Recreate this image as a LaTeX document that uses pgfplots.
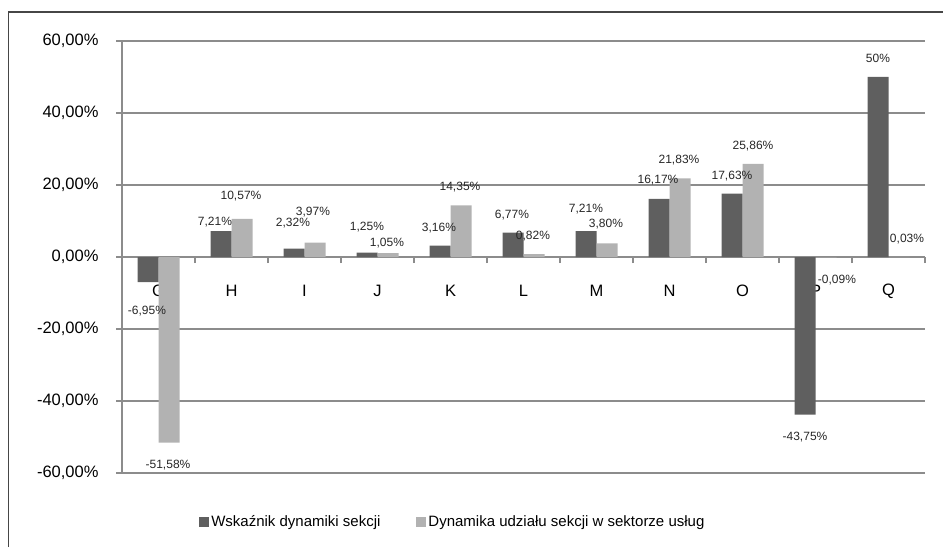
\documentclass[border=0pt]{standalone}
\usepackage{pgfplots}
\pgfplotsset{compat=1.18}
\usepackage{pgfplotstable}
\usepackage{fontspec}
\setmainfont{Liberation Sans}
\definecolor{darkbar}{RGB}{95,95,95}
\definecolor{lightbar}{RGB}{178,178,178}
\definecolor{gridc}{RGB}{140,140,140}
\definecolor{framec}{RGB}{70,70,70}

% x = category index (G..Q), y = value in %, dx/dy = label offset (pt), lab = printed value
\pgfplotstableread{
x y dx dy lab
0 -6.95 -1 -29 -6,95
1 7.21 -6 9 7,21
2 2.32 -1 26 2,32
3 1.25 0 25 1,25
4 3.16 -1 18 3,16
5 6.77 -1 18 6,77
6 7.21 0 22 7,21
7 16.17 -1 19 16,17
8 17.63 0 17 17,63
9 -43.75 0 -23 -43,75
10 50 0 19 50
}\darkdata

\pgfplotstableread{
x y dx dy lab
0 -51.58 -1 -22 -51,58
1 10.57 -1 23 10,57
2 3.97 -2 31 3,97
3 1.05 -1 10 1,05
4 14.35 -1 18 14,35
5 0.82 -1 18 0,82
6 3.80 -1 19 3,80
7 21.83 -1 18 21,83
8 25.86 0 18 25,86
9 -0.09 11 -23 -0,09
10 0.03 8 18 0,03
}\lightdata

\begin{document}
\begin{tikzpicture}
\useasboundingbox (0pt,0pt) rectangle (943pt,547pt);
\draw[framec, line width=1.2pt] (8.5pt,0pt) -- (8.5pt,535pt) -- (943pt,535pt);
\begin{axis}[
  at={(122pt,74pt)}, anchor=south west,
  scale only axis, width=803pt, height=432pt,
  xmin=-0.5, xmax=10.5, ymin=-60, ymax=60,
  clip=false,
  axis x line=middle, axis y line=left,
  axis line style={gridc, line width=1.5pt, -},
  hide obscured x ticks=false, hide obscured y ticks=false,
  tick align=outside,
  major tick length=6pt,
  tick style={gridc, line width=1.5pt},
  ytick={-60,-40,...,60},
  ymajorgrids,
  grid style={gridc, line width=1.5pt},
  /pgf/number format/assume math mode=true,
  yticklabel={\pgfmathprintnumber[fixed,fixed zerofill,precision=2,use comma]{\tick}\%},
  yticklabel style={font=\fontsize{16.5}{18}\selectfont, xshift=-14pt},
  xtick={-0.5,0.5,...,10.5},
  xticklabels={},
  extra x ticks={0,1,...,10},
  extra x tick labels={G,H,I,J,K,L,M,N,O,P,Q},
  extra x tick style={major tick length=0pt, grid=none,
    tick label style={font=\fontsize{16.5}{18}\selectfont, anchor=center, yshift=-34pt}},
  ybar=0pt, bar width=21pt,
  point meta=explicit symbolic,
  nodes near coords={\pgfplotspointmeta\%},
  visualization depends on={\thisrow{dx} \as \labdx},
  visualization depends on={\thisrow{dy} \as \labdy},
  nodes near coords style={font=\fontsize{12}{13}\selectfont, anchor=center, xshift=\labdx pt, yshift=\labdy pt, text=black!85},
  legend columns=2,
  legend style={draw=none, fill=none, at={(0.412,-0.113)}, anchor=center,
    font=\fontsize{15}{17}\selectfont,
    /tikz/every even column/.append style={column sep=34pt}},
]
\addplot[fill=darkbar, draw=none,
  legend image code/.code={\fill[darkbar] (0pt,-5pt) rectangle (10pt,5pt);}]
  table[x=x, y=y, meta=lab] {\darkdata};
\addlegendentry{Wskaźnik dynamiki sekcji}
\addplot[fill=lightbar, draw=none,
  legend image code/.code={\fill[lightbar] (0pt,-5pt) rectangle (10pt,5pt);}]
  table[x=x, y=y, meta=lab] {\lightdata};
\addlegendentry{Dynamika udziału sekcji w sektorze usług}
\end{axis}
\end{tikzpicture}
\end{document}
